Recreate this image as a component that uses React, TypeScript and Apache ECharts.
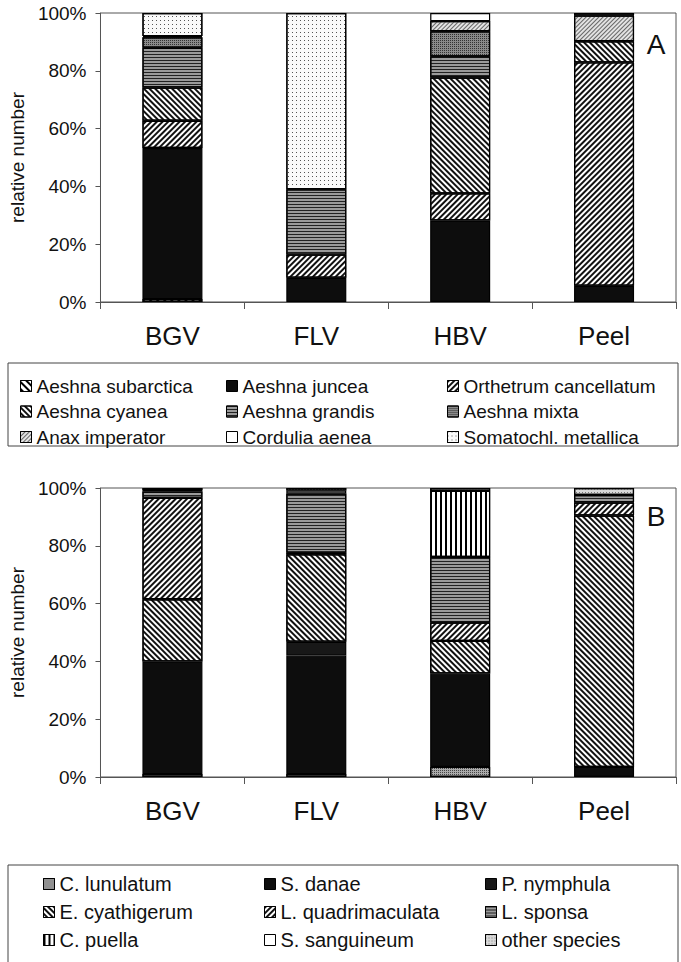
import React, { useEffect, useRef } from "react";
import * as echarts from "echarts";

// ---- Data ----
const sites = ["BGV", "FLV", "HBV", "Peel"];
const yTicks = [0, 20, 40, 60, 80, 100];

// Panel A, % of individuals per site
const aeshnaSubarctica = [1.0, 0, 0, 0];
const aeshnaJuncea = [52.3, 8.4, 28.2, 5.6];
const orthetrumCancellatum = [9.4, 8.0, 9.4, 77.3];
const aeshnaCyanea = [11.5, 0, 40.1, 7.3];
const aeshnaGrandis = [13.8, 22.6, 7.3, 0];
const aeshnaMixta = [3.6, 0, 8.7, 0];
const anaxImperator = [0.4, 0, 3.5, 8.9];
const corduliaAenea = [0, 0, 2.8, 0];
const somatochlMetallica = [8.0, 61.0, 0, 0.9];

// Panel B
const cLunulatum = [1.0, 1.0, 3.5, 0];
const sDanae = [39.0, 41.0, 32.3, 3.5];
const pNymphula = [0, 4.8, 0, 0];
const eCyathigerum = [21.5, 30.3, 11.3, 87.0];
const lQuadrimaculata = [35.1, 0.5, 6.3, 4.5];
const lSponsa = [2.2, 20.5, 22.7, 2.6];
const cPuella = [0, 0, 22.9, 0];
const sSanguineum = [0.5, 1.0, 0, 0];
const otherSpecies = [0.7, 0.9, 1.0, 2.4];

const FONT = "'Liberation Sans', Arial, Helvetica, sans-serif";

const hatch = (rotation: number, thick: number, gap: number, color = "#000") => ({
  symbol: "rect",
  symbolSize: 1,
  dashArrayX: [1, 0],
  dashArrayY: [thick, gap],
  rotation,
  color,
});
const dots = (size: number, gap: number, color = "#000") => ({
  symbol: "rect",
  symbolSize: 1,
  dashArrayX: [size, gap],
  dashArrayY: [size, gap],
  rotation: 0,
  color,
});
const vlines = (thick: number, gap: number, color = "#000") => ({
  symbol: "rect",
  symbolSize: 1,
  dashArrayX: [thick, gap],
  dashArrayY: [1, 0],
  rotation: 0,
  color,
});

const BACK = Math.PI / 4; // "\"
const FWD = -Math.PI / 4; // "/"

type Def = { name: string; data: number[]; color: string; decal?: any };

const defsA: Def[] = [
  { name: "Aeshna subarctica", data: aeshnaSubarctica, color: "#fff", decal: hatch(BACK, 2, 3) },
  { name: "Aeshna juncea", data: aeshnaJuncea, color: "#0d0d0d" },
  { name: "Orthetrum cancellatum", data: orthetrumCancellatum, color: "#fff", decal: hatch(FWD, 1.7, 1.5, "#111") },
  { name: "Aeshna cyanea", data: aeshnaCyanea, color: "#fff", decal: hatch(BACK, 1.7, 1.5, "#111") },
  { name: "Aeshna grandis", data: aeshnaGrandis, color: "#9a9a9a", decal: hatch(0, 1, 1.5, "#222") },
  { name: "Aeshna mixta", data: aeshnaMixta, color: "#8a8a8a", decal: dots(1, 1, "#333") },
  { name: "Anax imperator", data: anaxImperator, color: "#e2e2e2", decal: hatch(FWD, 1, 1.5, "#666") },
  { name: "Cordulia aenea", data: corduliaAenea, color: "#fff" },
  { name: "Somatochl. metallica", data: somatochlMetallica, color: "#fafafa", decal: dots(1, 2.5, "#555") },
];

const defsB: Def[] = [
  { name: "C. lunulatum", data: cLunulatum, color: "#aaa", decal: dots(1, 1, "#444") },
  { name: "S. danae", data: sDanae, color: "#0d0d0d" },
  { name: "P. nymphula", data: pNymphula, color: "#181818" },
  { name: "E. cyathigerum", data: eCyathigerum, color: "#fff", decal: hatch(BACK, 1.7, 1.5, "#111") },
  { name: "L. quadrimaculata", data: lQuadrimaculata, color: "#fff", decal: hatch(FWD, 1.7, 1.5, "#111") },
  { name: "L. sponsa", data: lSponsa, color: "#9a9a9a", decal: hatch(0, 1, 1.5, "#222") },
  { name: "C. puella", data: cPuella, color: "#fff", decal: vlines(2, 3, "#000") },
  { name: "S. sanguineum", data: sSanguineum, color: "#fff" },
  { name: "other species", data: otherSpecies, color: "#d8d8d8", decal: dots(1, 1.5, "#777") },
];

export default function App() {
  const ref = useRef<HTMLDivElement>(null);
  useEffect(() => {
    if (!ref.current) return;
    const chart = echarts.init(ref.current, undefined, { renderer: "svg" });

    const mkSeries = (defs: Def[], idx: number) =>
      defs.map((d) => ({
        name: d.name,
        type: "bar",
        stack: idx === 0 ? "A" : "B",
        xAxisIndex: idx,
        yAxisIndex: idx,
        barWidth: 60,
        data: d.data.map((v) => (v === 0 ? "-" : v)),
        itemStyle: {
          color: d.color,
          borderColor: "#000",
          borderWidth: 1.2,
          ...(d.decal ? { decal: d.decal } : {}),
        },
      }));

    const xAxis = (gi: number) => ({
      type: "category",
      gridIndex: gi,
      data: sites,
      axisLine: { lineStyle: { color: "#555", width: 1 } },
      axisTick: { show: true, length: 7, lineStyle: { color: "#555" } },
      axisLabel: { fontSize: 26, color: "#111", margin: 21, fontFamily: FONT },
    });
    const yAxis = (gi: number) => ({
      type: "value",
      gridIndex: gi,
      min: yTicks[0],
      max: yTicks[yTicks.length - 1],
      interval: 20,
      name: "relative number",
      nameLocation: "middle",
      nameRotate: 90,
      nameGap: 70,
      nameTextStyle: { fontSize: 19, color: "#111", fontFamily: FONT },
      axisLine: { show: true, lineStyle: { color: "#555", width: 1 } },
      axisTick: { show: true, length: 5, lineStyle: { color: "#555" } },
      splitLine: { show: false },
      axisLabel: { fontSize: 19, color: "#111", margin: 14, formatter: "{value}%", fontFamily: FONT },
    });

    const legendCols = (defs: Def[], lefts: number[], top: number, gap: number, fs: number) =>
      [0, 1, 2].map((c) => ({
        orient: "vertical",
        left: lefts[c],
        top,
        itemWidth: 11,
        itemHeight: 11,
        itemGap: gap,
        icon: "rect",
        selectedMode: false,
        itemStyle: { borderColor: "#000", borderWidth: 1 },
        textStyle: { fontSize: fs, lineHeight: 20, color: "#111", fontFamily: FONT },
        data: [defs[c].name, defs[c + 3].name, defs[c + 6].name],
      }));

    chart.setOption({
      animation: false,
      backgroundColor: "#fff",
      textStyle: { fontFamily: FONT },
      grid: [
        { left: 98, right: 5, top: 13, bottom: 961 - 301, show: true, borderColor: "#555", borderWidth: 1 },
        { left: 98, right: 5, top: 488, bottom: 962 - 777, show: true, borderColor: "#555", borderWidth: 1 },
      ],
      xAxis: [xAxis(0), xAxis(1)],
      yAxis: [yAxis(0), yAxis(1)],
      legend: [
        ...legendCols(defsA, [15, 221, 442], 371, 5.5, 19),
        ...legendCols(defsB, [38, 259, 480], 869, 8, 20),
      ],
      graphic: [
        { type: "rect", shape: { x: 8, y: 363, width: 670, height: 83 }, style: { fill: "none", stroke: "#444", lineWidth: 1 } },
        { type: "rect", shape: { x: 8, y: 865, width: 670, height: 110 }, style: { fill: "none", stroke: "#444", lineWidth: 1 } },
        { type: "text", x: 656, y: 44, style: { text: "A", fontSize: 28, fill: "#111", fontFamily: FONT, textAlign: "center", textVerticalAlign: "middle" } },
        { type: "text", x: 656, y: 516, style: { text: "B", fontSize: 28, fill: "#111", fontFamily: FONT, textAlign: "center", textVerticalAlign: "middle" } },
      ],
      series: [...mkSeries(defsA, 0), ...mkSeries(defsB, 1)],
    });
    return () => chart.dispose();
  }, []);
  return <div ref={ref} style={{ position: "absolute", left: 0, top: 0, width: 681, height: 962 }} />;
}
